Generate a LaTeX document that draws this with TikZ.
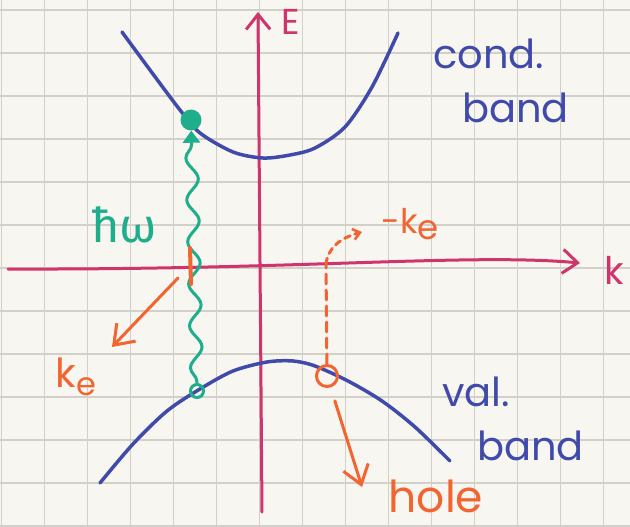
\documentclass[tikz,border=0pt]{standalone}
\usepackage{fontspec}
\setmainfont{Poppins}
\newfontfamily\greekfont{Fira Sans}
\usetikzlibrary{arrows.meta, positioning, decorations.pathmorphing}
\definecolor{paper}{HTML}{F8F6F1}
\definecolor{gridgrey}{HTML}{D3CFC9}
\definecolor{axisred}{HTML}{CF356C}
\definecolor{bandblue}{HTML}{3F4AAA}
\definecolor{photon}{HTML}{1EAE8C}
\definecolor{holeorange}{HTML}{F26430}

\begin{document}
\begin{tikzpicture}[x=1pt, y=-1pt,
  gridline/.style={gridgrey, line width=1.5pt},
  axis/.style={axisred, line width=3pt, line cap=round,
               -{Straight Barb[length=15pt, width=24pt, line width=3pt]}},
  band/.style={bandblue, line width=3.5pt, line cap=round},
  bandtext/.style={bandblue, font=\fontsize{40}{54}\selectfont, align=left, inner sep=0pt},
  oline/.style={holeorange, line width=3pt, line cap=round},
  oarr/.style={oline, -{Straight Barb[length=18pt, width=26pt, line width=3pt]}},
  otext/.style={holeorange, inner sep=0pt},
  wave/.style={photon, line width=3pt, line cap=round,
               decorate, decoration={snake, amplitude=6pt, segment length=42pt,
                                     pre length=2pt, post length=14pt},
               -{Triangle[length=12pt, width=17pt]}},
]
\useasboundingbox (0,0) rectangle (630,527);
\fill[paper] (0,0) rectangle (630,527);
\foreach \i in {0,...,14}
  \draw[gridline] ({1.5+43*\i},0) -- ({1.5+43*\i},527);
\foreach \j in {0,...,12}
  \draw[gridline] (0,{10+43*\j}) -- (630,{10+43*\j});

\coordinate (kL) at (8,269);
\coordinate (kR) at (580,263);
\coordinate (Eb) at (262,512);
\coordinate (Et) at (258,12);
\draw[axis] (kL) .. controls (300,270) and (470,253) .. (kR);
\draw[axis] (Eb) -- (Et);
\node[axisred, font=\fontsize{38}{38}\selectfont, inner sep=0pt] (klab) at (614,270) {k};
\node[axisred, font=\fontsize{36}{36}\selectfont, inner sep=0pt] (Elab) at (291,22) {E};

\draw[band] plot[smooth] coordinates {(122,32) (150,70) (180,110) (200,133) (233,152)
  (263,158) (290,155) (315,148) (345,127) (372,87) (398,33)};
\draw[band] plot[smooth] coordinates {(100,483) (133,444) (167,411) (200,389) (233,371)
  (267,362) (293,361) (315,366) (348,381) (382,401) (415,427) (450,461)};
\node[bandtext, anchor=base west] (cond) at (433,122) {cond.\\\hspace{29pt}band};
\node[bandtext, anchor=base west] (val) at (442,460) {val.\\\hspace{35pt}band};

\node[circle, fill=photon, minimum size=21pt, inner sep=0pt] (elec) at (191,120) {};
\node[circle, draw=photon, line width=3pt, minimum size=13pt, inner sep=0pt] (vac) at (197,391) {};
\draw[wave] (vac) -- (elec);
\node[photon, font=\greekfont\fontsize{48}{48}\selectfont, inner sep=0pt] (hw) at (124,225) {ħω};

\coordinate (tkA) at (190,248);
\coordinate (tkB) at (191,284);
\draw[oline, line width=4pt] (tkA) -- (tkB);
\coordinate (keA) at (178,278);
\coordinate (keB) at (112,347);
\draw[oarr] (keA) -- (keB);
\node[otext, font=\fontsize{40}{40}\selectfont] (ke) at (76,377) {k\raisebox{-0.35ex}{\fontsize{32}{32}\selectfont e}};

\node[circle, draw=holeorange, line width=3pt, minimum size=21pt, inner sep=0pt] (hole) at (327,376) {};
\coordinate (dA) at (326,264);
\coordinate (dB) at (362,232);
\draw[oline, dash pattern=on 10pt off 6pt] (hole) -- (dA);
\draw[oline, dash pattern=on 6pt off 5pt, -{Straight Barb[length=7pt, width=11pt, line width=2.5pt]}]
  (dA) .. controls (328,248) and (340,238) .. (dB);
\node[otext, font=\fontsize{34}{34}\selectfont] (mke) at (410,224) {-k\raisebox{-0.3ex}{e}};
\coordinate (hB) at (362,487);
\draw[oarr, shorten <=14pt] (hole) -- (hB);
\node[otext, font=\fontsize{44}{44}\selectfont] (holelab) at (436,496) {hole};
\end{tikzpicture}
\end{document}
